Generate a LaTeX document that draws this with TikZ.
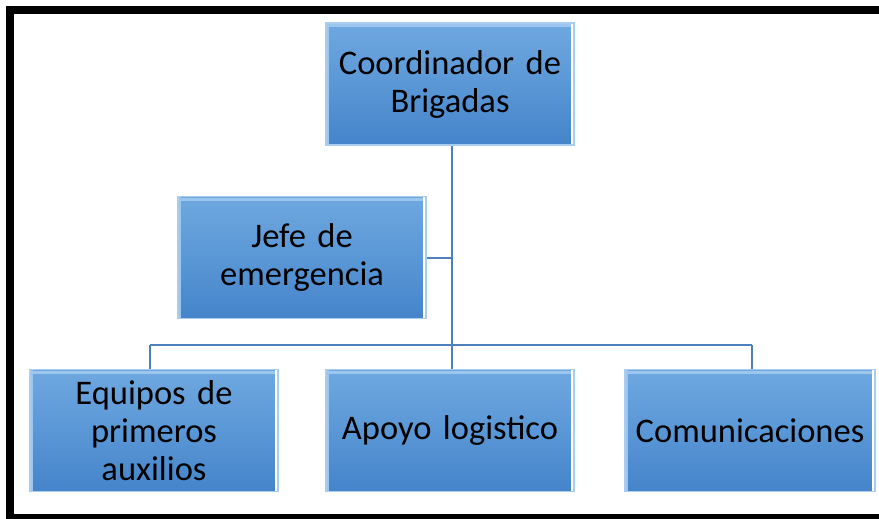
\documentclass[tikz,border=0pt]{standalone}
\usepackage{fontspec}
\setmainfont{Carlito}
\begin{document}
\begin{tikzpicture}[x=1pt,y=-1pt,
  box/.style={rectangle, minimum width=248pt, minimum height=122pt, text width=240pt, align=center,
    top color=boxtop, bottom color=boxbot, middle color=boxmid, draw=boxedge, line width=1.5pt,
    font=\fontsize{34.5}{38}\selectfont, inner sep=0pt,
    path picture={
      \draw[bevlight, line width=3pt] ([xshift=2pt,yshift=-2.5pt]path picture bounding box.north west) -- ([xshift=-2pt,yshift=-2.5pt]path picture bounding box.north east);
      \draw[bevlight, line width=2pt] ([xshift=2pt]path picture bounding box.north west) -- ([xshift=2pt]path picture bounding box.south west);
      \draw[white, line width=2pt] ([xshift=-2pt]path picture bounding box.north east) -- ([xshift=-2pt]path picture bounding box.south east);
    }},
  link/.style={draw=linkblue, line width=1.6pt}]
\definecolor{boxtop}{HTML}{6FA8E0}
\definecolor{boxmid}{HTML}{5A97D6}
\definecolor{boxbot}{HTML}{4584CA}
\definecolor{boxedge}{HTML}{A9CDF0}
\definecolor{bevlight}{HTML}{9CC6EE}
\definecolor{linkblue}{HTML}{4E80BA}
\useasboundingbox (0,0) rectangle (879,519);
\draw[line width=8pt, black] (10,10) rectangle (890,518);
\node[box] (coord) at (450,84) {Coordinador de\\Brigadas};
\node[box] (jefe) at (302,257.5) {Jefe de\\emergencia};
\node[box] (equip) at (154,430.5) {Equipos de\\primeros\\auxilios};
\node[box] (apoyo) at (450,430.5) {Apoyo logistico};
\node[box, text width=250pt] (comun) at (750,430.5) {Comunicaciones};
\coordinate (bus) at (452,345);
\coordinate (jj) at (452,258);
\draw[link] (coord.south -| bus) -- (bus);
\draw[link] (jefe.east |- jj) -- (jj);
\draw[link] (150,345) -- (752,345);
\draw[link] (150,345) -- (equip.north -| 150,0);
\draw[link] (bus) -- (apoyo.north -| bus);
\draw[link] (752,345) -- (comun.north -| 752,0);
\end{tikzpicture}
\end{document}
